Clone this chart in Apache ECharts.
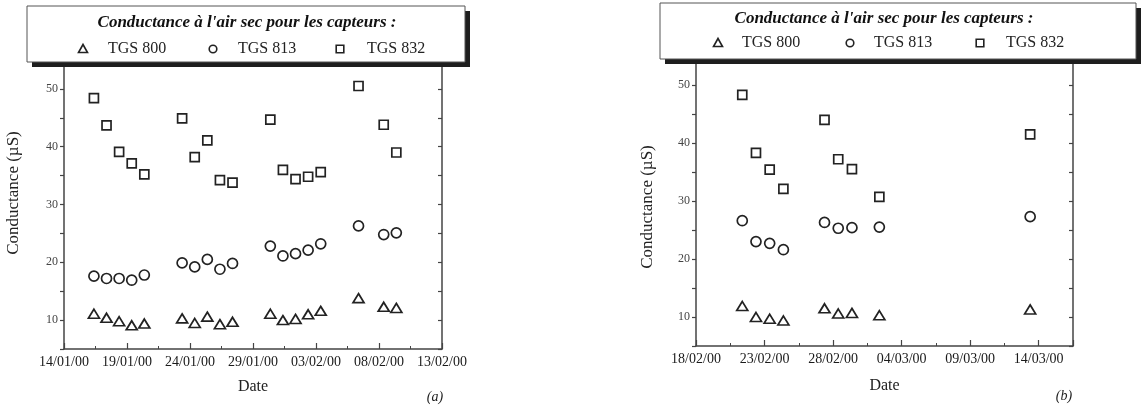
<!DOCTYPE html>
<html>
<head>
<meta charset="utf-8">
<script src="https://cdn.jsdelivr.net/npm/echarts@6/dist/echarts.min.js"></script>
<style>
html,body{margin:0;padding:0;background:#fff;}
#chart{width:1144px;height:408px;}
</style>
</head>
<body>
<div id="chart"></div>
<script>
// ---------- data ----------
const seriesNames = ['TGS 800', 'TGS 813', 'TGS 832'];
const legendTitle = "Conductance à l'air sec pour les capteurs :";
const yAxisTitle = 'Conductance (µS)';
const xAxisTitle = 'Date';
const panelLabels = ['(a)', '(b)'];

// panel (a)
const datesA = ['2000-01-16','2000-01-17','2000-01-18','2000-01-19','2000-01-20',
                '2000-01-23','2000-01-24','2000-01-25','2000-01-26','2000-01-27',
                '2000-01-30','2000-01-31','2000-02-01','2000-02-02','2000-02-03',
                '2000-02-06','2000-02-08','2000-02-09'];
const tgs800A = [11.1,10.4,9.8,9.1,9.4, 10.3,9.5,10.6,9.3,9.7, 11.1,10.0,10.2,11.0,11.6, 13.8,12.3,12.1];
const tgs813A = [17.6,17.2,17.2,16.9,17.8, 19.9,19.2,20.5,18.8,19.8, 22.8,21.1,21.5,22.1,23.2, 26.3,24.8,25.1];
const tgs832A = [48.4,43.7,39.1,37.1,35.2, 44.9,38.2,41.1,34.2,33.8, 44.7,36.0,34.4,34.8,35.6, 50.5,43.8,39.0];
const xRangeA = ['2000-01-14T00:00:00Z', '2000-02-13T00:00:00Z'];

// panel (b)
const datesB = ['2000-02-21','2000-02-22','2000-02-23','2000-02-24',
                '2000-02-27','2000-02-28','2000-02-29','2000-03-02','2000-03-13'];
const tgs800B = [11.9,10.0,9.7,9.4, 11.5,10.6,10.7,10.3, 11.3];
const tgs813B = [26.6,23.0,22.7,21.6, 26.3,25.3,25.4,25.5, 27.3];
const tgs832B = [48.3,38.3,35.4,32.1, 44.0,37.2,35.5,30.7, 41.5];
const xRangeB = ['2000-02-18T00:00:00Z', '2000-03-16T12:00:00Z'];

const measureTime = 'T09:00:00Z';
const yRange = [5, 55];
const yLabelStep = 10;
const yTickStep = 5;
const xLabelStepDays = 5;
const xMinorStepDays = 2.5;

// ---------- helpers ----------
const DAY = 86400000;
const ts = d => Date.parse(d + measureTime);
const serif = '"Liberation Serif", "DejaVu Serif", serif';
const ink = '#222';
const axisColor = '#444';

function fmtDate(v) {
  if (v % DAY !== 0 || Math.round(v / DAY) % xLabelStepDays !== 0) return '';
  const d = new Date(v);
  const p = n => String(n).padStart(2, '0');
  return p(d.getUTCDate()) + '/' + p(d.getUTCMonth() + 1) + '/' + p(d.getUTCFullYear() % 100);
}

function xAxesFor(gridIndex, range, nameGap) {
  const min = Date.parse(range[0]), max = Date.parse(range[1]);
  return [
    {
      type: 'value', gridIndex, min, max, interval: xLabelStepDays * DAY, position: 'bottom',
      name: xAxisTitle, nameLocation: 'middle', nameGap,
      nameTextStyle: { fontFamily: serif, fontSize: 16, color: '#222' },
      axisLine: { show: true, lineStyle: { color: axisColor, width: 1.5 } },
      axisTick: { show: true, inside: true, length: 6, lineStyle: { color: axisColor, width: 1.2 } },
      axisLabel: { formatter: fmtDate, fontFamily: serif, fontSize: 14, color: '#1a1a1a', margin: 6,
                   showMinLabel: true, showMaxLabel: true, hideOverlap: false },
      splitLine: { show: false }
    },
    {
      type: 'value', gridIndex, min, max, interval: xMinorStepDays * DAY, position: 'bottom',
      axisLine: { show: false },
      axisTick: { show: true, inside: true, length: 3, lineStyle: { color: axisColor, width: 1 } },
      axisLabel: { show: false },
      splitLine: { show: false }
    }
  ];
}

function yAxesFor(gridIndex) {
  return [
    {
      type: 'value', gridIndex, min: yRange[0], max: yRange[1], interval: yTickStep, position: 'left',
      axisLine: { show: true, lineStyle: { color: axisColor, width: 1.5 } },
      axisTick: { show: true, inside: false, length: 4, lineStyle: { color: axisColor, width: 1.2 } },
      axisLabel: { formatter: v => (v % yLabelStep === 0 && v > yRange[0] && v < yRange[1]) ? String(v) : '',
                   fontFamily: serif, fontSize: 12, color: '#444', margin: 6 },
      splitLine: { show: false }
    },
    {
      type: 'value', gridIndex, min: yRange[0], max: yRange[1], interval: yTickStep, position: 'right',
      axisLine: { show: true, lineStyle: { color: axisColor, width: 1.5 } },
      axisTick: { show: true, inside: true, length: 4, lineStyle: { color: axisColor, width: 1.2 } },
      axisLabel: { show: false },
      splitLine: { show: false }
    }
  ];
}

const symbols = [
  { symbol: 'triangle', size: [11, 9] },
  { symbol: 'circle', size: 10 },
  { symbol: 'rect', size: 9 }
];

function seriesFor(dates, valuesList, xAxisIndex, yAxisIndex) {
  return valuesList.map((vals, i) => ({
    type: 'scatter', name: seriesNames[i], xAxisIndex, yAxisIndex,
    symbol: symbols[i].symbol, symbolSize: symbols[i].size,
    itemStyle: { color: '#fff', borderColor: ink, borderWidth: 1.7, opacity: 1 },
    emphasis: { disabled: true },
    data: dates.map((d, k) => [ts(d), vals[k]])
  }));
}

// ---------- legend boxes (graphic) ----------
function legendBox(box, titleX, titleY, itemY, symX, textX) {
  const els = [];
  els.push({ type: 'rect', z: 100, shape: { x: box.x + 5, y: box.y + 5, width: box.w, height: box.h },
             style: { fill: '#1e1e1e' } });
  els.push({ type: 'rect', z: 101, shape: { x: box.x, y: box.y, width: box.w, height: box.h },
             style: { fill: '#fff', stroke: '#555', lineWidth: 1 } });
  els.push({ type: 'text', z: 102, x: titleX, y: titleY,
             style: { text: legendTitle, font: 'italic bold 17px ' + serif, fill: '#111',
                      textAlign: 'center', textVerticalAlign: 'middle' } });
  const s = 4.5;
  els.push({ type: 'polygon', z: 102, shape: { points: [[symX[0], itemY - s], [symX[0] + s, itemY + s - 1], [symX[0] - s, itemY + s - 1]] },
             style: { fill: '#fff', stroke: ink, lineWidth: 1.6 } });
  els.push({ type: 'circle', z: 102, shape: { cx: symX[1], cy: itemY, r: 3.8 },
             style: { fill: '#fff', stroke: ink, lineWidth: 1.6 } });
  els.push({ type: 'rect', z: 102, shape: { x: symX[2] - 3.8, y: itemY - 3.8, width: 7.6, height: 7.6 },
             style: { fill: '#fff', stroke: ink, lineWidth: 1.6 } });
  seriesNames.forEach((n, i) => {
    els.push({ type: 'text', z: 102, x: textX[i], y: itemY,
               style: { text: n, font: '16px ' + serif, fill: '#222', textAlign: 'left', textVerticalAlign: 'middle' } });
  });
  return els;
}

const graphics = []
  .concat(legendBox({ x: 27, y: 6, w: 438, h: 56 }, 247, 23, 49, [83, 213, 340], [108, 238, 367]))
  .concat(legendBox({ x: 660, y: 3, w: 476, h: 56 }, 884, 19, 43, [718, 850, 980], [742, 874, 1006]))
  .concat([
    { type: 'text', x: 14, y: 193, rotation: Math.PI / 2,
      style: { text: yAxisTitle, font: '17px ' + serif, fill: '#222', textAlign: 'center', textVerticalAlign: 'middle' } },
    { type: 'text', x: 648, y: 207, rotation: Math.PI / 2,
      style: { text: yAxisTitle, font: '17px ' + serif, fill: '#222', textAlign: 'center', textVerticalAlign: 'middle' } },
    { type: 'text', x: 435, y: 397,
      style: { text: panelLabels[0], font: 'italic 14px ' + serif, fill: '#222', textAlign: 'center', textVerticalAlign: 'middle' } },
    { type: 'text', x: 1064, y: 396,
      style: { text: panelLabels[1], font: 'italic 14px ' + serif, fill: '#222', textAlign: 'center', textVerticalAlign: 'middle' } }
  ]);

const option = {
  animation: false,
  backgroundColor: '#fff',
  grid: [
    { left: 64, top: 60, width: 378, height: 289 },
    { left: 696, top: 56, width: 377, height: 290 }
  ],
  xAxis: [].concat(xAxesFor(0, xRangeA, 30), xAxesFor(1, xRangeB, 32)),
  yAxis: [].concat(yAxesFor(0), yAxesFor(1)),
  series: [].concat(
    seriesFor(datesA, [tgs800A, tgs813A, tgs832A], 0, 0),
    seriesFor(datesB, [tgs800B, tgs813B, tgs832B], 2, 2)
  ),
  graphic: graphics
};

const chart = echarts.init(document.getElementById('chart'), null, { renderer: 'canvas' });
chart.setOption(option);
</script>
</body>
</html>
